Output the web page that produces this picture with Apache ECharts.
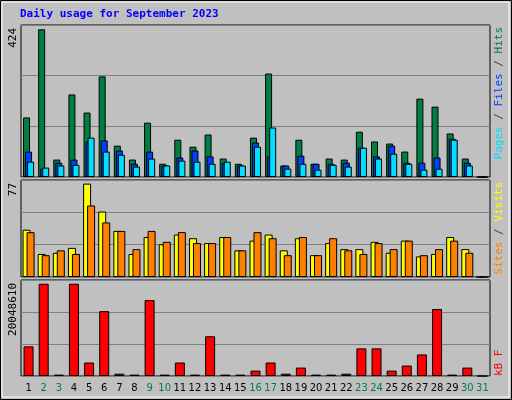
<!DOCTYPE html>
<html><head><meta charset="utf-8">
<script src="https://cdn.jsdelivr.net/npm/echarts@6/dist/echarts.min.js"></script>
<style>html,body{margin:0;padding:0;background:#c0c0c0}#c{width:512px;height:400px}</style>
</head><body><div id="c"></div>
<script>
var days = ['1','2','3','4','5','6','7','8','9','10','11','12','13','14','15','16','17','18','19','20','21','22','23','24','25','26','27','28','29','30','31'];
var weekend = ['2','3','9','10','16','17','23','24','30','31'];
var hits  = [171,424,50,237,185,289,90,50,156,38,107,87,122,53,38,113,297,33,107,38,53,50,130,102,96,73,225,202,125,53,0];
var files = [73,24,41,50,102,105,76,38,73,33,56,76,59,41,33,99,59,33,61,38,38,41,84,59,90,41,41,56,110,41,0];
var pages = [44,27,33,35,113,73,64,30,53,33,47,44,38,44,33,87,142,24,38,21,35,30,84,53,67,38,21,24,107,33,0];
var visits = [39,19,20,24,77,54,38,19,33,27,35,32,28,33,22,30,35,22,32,18,28,23,23,29,20,30,17,19,33,23,0];
var sites  = [37,18,22,19,59,45,38,23,38,29,37,28,28,33,22,37,32,18,33,18,32,22,19,28,23,30,18,23,30,20,0];
var kbytes = [6440000,20048610,300000,20048610,2930000,14100000,500000,300000,16500000,300000,2930000,300000,8630000,300000,300000,1170000,2930000,500000,1830000,300000,300000,500000,6000000,6000000,1170000,2270000,4680000,14560000,300000,1830000,0];
var maxLabels = ['424','77','20048610'];

var ch = echarts.init(document.getElementById('c'));
var grids = [
  {left:21,right:22,top:25,height:152},
  {left:21,right:22,top:180,height:97},
  {left:21,right:22,top:280,height:96}
];
grids.forEach(function(g){g.show=true;g.borderColor='#000';g.borderWidth=1;g.backgroundColor='transparent';});
var maxes=[424*151.7/147.4, 77*95.6/92, 20048610*95/91.3];
function xa(i){return {type:'category',data:days,gridIndex:i,axisLine:{show:false},axisTick:{show:false},
  axisLabel:{show:i===2,margin:7,fontFamily:'DejaVu Sans',fontSize:10,color:'#000',interval:0,
    formatter:function(v){return weekend.indexOf(v)>=0?'{w|'+v+'}':v;},rich:{w:{color:'#008040',fontFamily:'DejaVu Sans',fontSize:10}}}};}
function ya(i){return {type:'value',gridIndex:i,min:0,max:maxes[i],interval:maxes[i]/3,axisLabel:{show:false},axisLine:{show:false},axisTick:{show:false},
  splitLine:{lineStyle:{color:'#808080',width:1}}};}
function bar(d,color,xi,w,gap){return {type:'bar',data:d,xAxisIndex:xi,yAxisIndex:xi,barWidth:w,barGap:gap,
  itemStyle:{color:color,borderColor:'#000',borderWidth:1},animation:false,silent:true};}
function vtext(x,y,t,color,align){return {type:'text',x:x,y:y,rotation:Math.PI/2,style:{text:t,fill:color,font:'11px DejaVu Sans Mono',align:align||'right',verticalAlign:'top'}};}
var mono='11px DejaVu Sans Mono';
ch.setOption({
  animation:false,
  grid:grids,
  xAxis:[xa(0),xa(1),xa(2)],
  yAxis:[ya(0),ya(1),ya(2)],
  series:[
    bar(hits,'#008040',0,7,'-71%'),bar(files,'#0040ff',0,7,'-71%'),bar(pages,'#00e0ff',0,7,'-71%'),
    bar(visits,'#ffff00',1,8,'-50%'),bar(sites,'#ff8000',1,8,'-50%'),
    bar(kbytes,'#ff0000',2,10,'0%')
  ],
  graphic:[
    {type:'rect',shape:{x:0.5,y:0.5,width:511,height:399},style:{fill:'none',stroke:'#000',lineWidth:1}},
    {type:'rect',shape:{x:2,y:2,width:507,height:395},style:{fill:'none',stroke:'#fff',lineWidth:1}},
    {type:'text',x:20,y:9,style:{text:'Daily usage for September 2023',fill:'#0000ff',font:'bold 11px DejaVu Sans Mono'}},
    vtext(8,28,maxLabels[0],'#000'),
    vtext(8,183,maxLabels[1],'#000'),
    vtext(8,283,maxLabels[2],'#000'),
    {type:'text',x:494,y:27,rotation:Math.PI/2,style:{text:'{p|Pages}{k| / }{f|Files}{k| / }{h|Hits}',font:mono,align:'right',verticalAlign:'top',
      rich:{p:{fill:'#00e0ff',font:mono},f:{fill:'#0040ff',font:mono},h:{fill:'#008040',font:mono},k:{fill:'#404040',font:mono}}}},
    {type:'text',x:494,y:182,rotation:Math.PI/2,style:{text:'{s|Sites}{k| / }{v|Visits}',font:mono,align:'right',verticalAlign:'top',
      rich:{s:{fill:'#ff8000',font:mono},v:{fill:'#ffff00',font:mono},k:{fill:'#404040',font:mono}}}},
    {type:'text',x:494,y:376,rotation:Math.PI/2,style:{text:'kB F',fill:'#ff0000',font:mono,align:'left',verticalAlign:'top'}}
  ]
});
</script></body></html>
